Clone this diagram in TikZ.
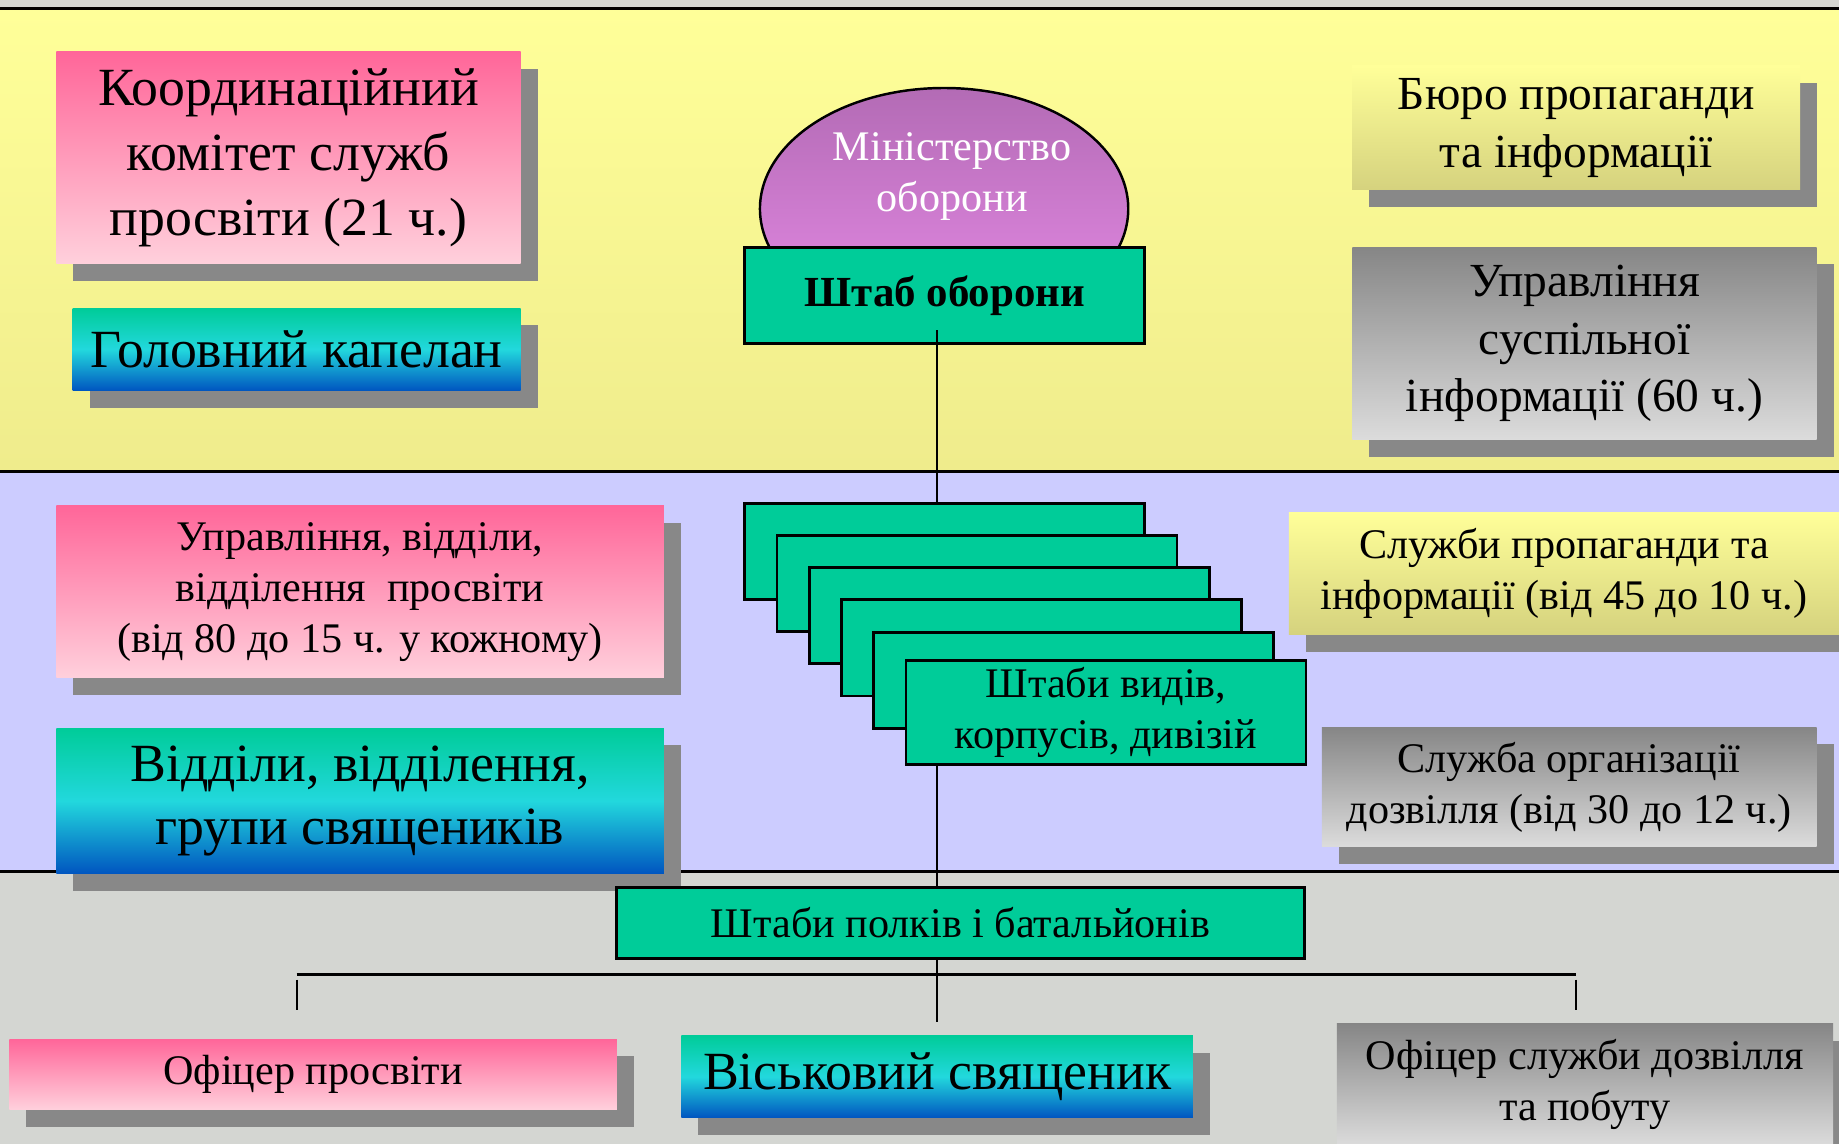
\documentclass[tikz,border=0pt]{standalone}
\usepackage{fontspec}
\setmainfont{Liberation Serif}
\usepackage{xcolor}
\usetikzlibrary{shapes.geometric, shadows, positioning, calc}

\definecolor{bandyellow}{HTML}{FFFF99}
\definecolor{bandyellowlow}{HTML}{EFEC8C}
\definecolor{bandlilac}{HTML}{CCCCFF}
\definecolor{bandgray}{HTML}{D4D6D2}
\definecolor{pinktop}{HTML}{FF6699}
\definecolor{pinkbot}{HTML}{FFD0DC}
\definecolor{bluetop}{HTML}{00CC99}
\definecolor{bluemid}{HTML}{22D8DD}
\definecolor{bluebot}{HTML}{0055C0}
\definecolor{yeltop}{HTML}{FFFF99}
\definecolor{yelbot}{HTML}{D5D27E}
\definecolor{graytop}{HTML}{868686}
\definecolor{graybot}{HTML}{DCDCDC}
\definecolor{violettop}{HTML}{B36BB5}
\definecolor{violetbot}{HTML}{E68AE6}
\definecolor{staffgreen}{HTML}{00CC99}
\definecolor{shadowgray}{HTML}{888888}

\begin{document}
\begin{tikzpicture}[
    box/.style={rectangle, inner sep=2pt, align=center, text=black},
    shadowed/.style={drop shadow={shadow xshift=0.17cm, shadow yshift=-0.17cm, fill=shadowgray, opacity=1}},
    pinkbox/.style={box, shadowed, top color=pinktop, bottom color=pinkbot},
    bluebox/.style={box, shadowed, top color=bluetop, bottom color=bluebot, middle color=bluemid},
    yelbox/.style={box, shadowed, top color=yeltop, bottom color=yelbot},
    graybox/.style={box, shadowed, top color=graytop, bottom color=graybot},
    staff/.style={box, draw=black, line width=0.8pt, fill=staffgreen},
    link/.style={line width=0.6pt},
    bigtext/.style={font=\fontsize{15.3}{18.4}\selectfont},
    midtext/.style={font=\fontsize{13.5}{16.4}\selectfont},
    smalltext/.style={font=\fontsize{12}{14.5}\selectfont}
]
\useasboundingbox (0,0) rectangle (18.39,-11.435);
\clip (0,0) rectangle (18.39,-11.435);

% Bands
\fill[bandgray] (0,0) rectangle (18.39,-11.435);
\shade[top color=bandyellow, bottom color=bandyellowlow] (0,-0.082) rectangle (18.39,-4.715);
\fill[bandlilac] (0,-4.715) rectangle (18.39,-8.714);
\foreach \y in {-0.082,-4.715,-8.714}
    \draw[line width=0.8pt] (0,\y) -- (18.39,\y);

% Top level
\node[pinkbox, bigtext, minimum width=4.644cm, minimum height=2.123cm] (koord) at (2.885,-1.577) {Координаційний\\комітет служб\\просвіти (21 ч.)};
\node[bluebox, bigtext, minimum width=4.48cm, minimum height=0.821cm] (kapelan) at (2.967,-3.495) {Головний капелан};
\node[ellipse, draw=black, line width=0.7pt, top color=violettop, bottom color=violetbot, minimum width=3.683cm, minimum height=2.416cm] (mino) at (9.441,-2.088) {};
\node[smalltext, text=white, align=center] (minotext) at ([xshift=0.08cm, yshift=0.32cm]mino.center) {Міністерство\\оборони};
\node[staff, font=\fontsize{12.2}{14.6}\selectfont\bfseries, minimum width=3.999cm, minimum height=0.962cm] (shtab) at (9.447,-2.955) {Штаб оборони};
\node[yelbox, midtext, minimum width=4.48cm, minimum height=1.243cm] (buro) at (15.762,-1.278) {Бюро пропаганди\\та інформації};
\node[graybox, midtext, minimum width=4.644cm, minimum height=1.923cm] (uprsusp) at (15.845,-3.436) {Управління\\суспільної\\інформації (60 ч.)};

% Middle level
\node[pinkbox, smalltext, minimum width=6.075cm, minimum height=1.724cm] (uprosv) at (3.600,-5.917) {Управління, відділи,\\відділення~~просвіти\\(від 80 до 15 ч. у кожному)};
\node[bluebox, font=\fontsize{15.3}{18}\selectfont, minimum width=6.075cm, minimum height=1.454cm] (viddily) at (3.600,-8.010) {Відділи, відділення,\\групи священиків};
\foreach \i in {0,...,4}
    \node[staff, minimum width=3.999cm, minimum height=0.962cm] (stack\i) at (9.447+0.3225*\i,-5.512-0.3225*\i) {};
\node[staff, smalltext, minimum width=3.999cm, minimum height=0.962cm] (stack5) at (9.447+0.3225*5,-5.512-0.3225*5) {Штаби видів,\\корпусів, дивізій};
\node[yelbox, smalltext, minimum width=5.5cm, minimum height=1.22cm] (sluzhprop) at (15.639,-5.735) {Служби пропаганди та\\інформації (від 45 до 10 ч.)};
\node[graybox, smalltext, minimum width=4.949cm, minimum height=1.196cm] (sluzhdozv) at (15.692,-7.870) {Служба організації\\дозвілля (від 30 до 12 ч.)};

% Bottom level
\node[staff, smalltext, minimum width=6.873cm, minimum height=0.704cm] (polk) at (9.605,-9.230) {Штаби полків і батальйонів};
\node[pinkbox, smalltext, minimum width=6.075cm, minimum height=0.704cm] (ofic) at (3.131,-10.743) {Офіцер просвіти};
\node[bluebox, bigtext, minimum width=5.113cm, minimum height=0.821cm] (svyash) at (9.371,-10.766) {Віськовий священик};
\node[graybox, smalltext, minimum width=4.961cm, minimum height=1.22cm] (ofdozv) at (15.850,-10.848) {Офіцер служби дозвілля\\та побуту};

% Connectors
\coordinate (spine) at (9.371,0);
\coordinate (barL) at (2.967,-9.746);
\coordinate (barR) at (15.762,-9.746);
\draw[link] ($(spine |- shtab.south)+(0,0.15)$) -- (spine |- stack0.north);
\draw[link] (spine |- stack5.south) -- (spine |- polk.north);
\draw[link, shorten >=0.13cm] (spine |- polk.south) -- (svyash.north);
\draw[line width=1pt] (barL) -- (barR);
\draw[link, shorten <=0.05cm, shorten >=0.28cm] (barL) -- (barL |- ofic.north);
\draw[link, shorten <=0.05cm, shorten >=0.13cm] (barR) -- (barR |- ofdozv.north);
\end{tikzpicture}
\end{document}
